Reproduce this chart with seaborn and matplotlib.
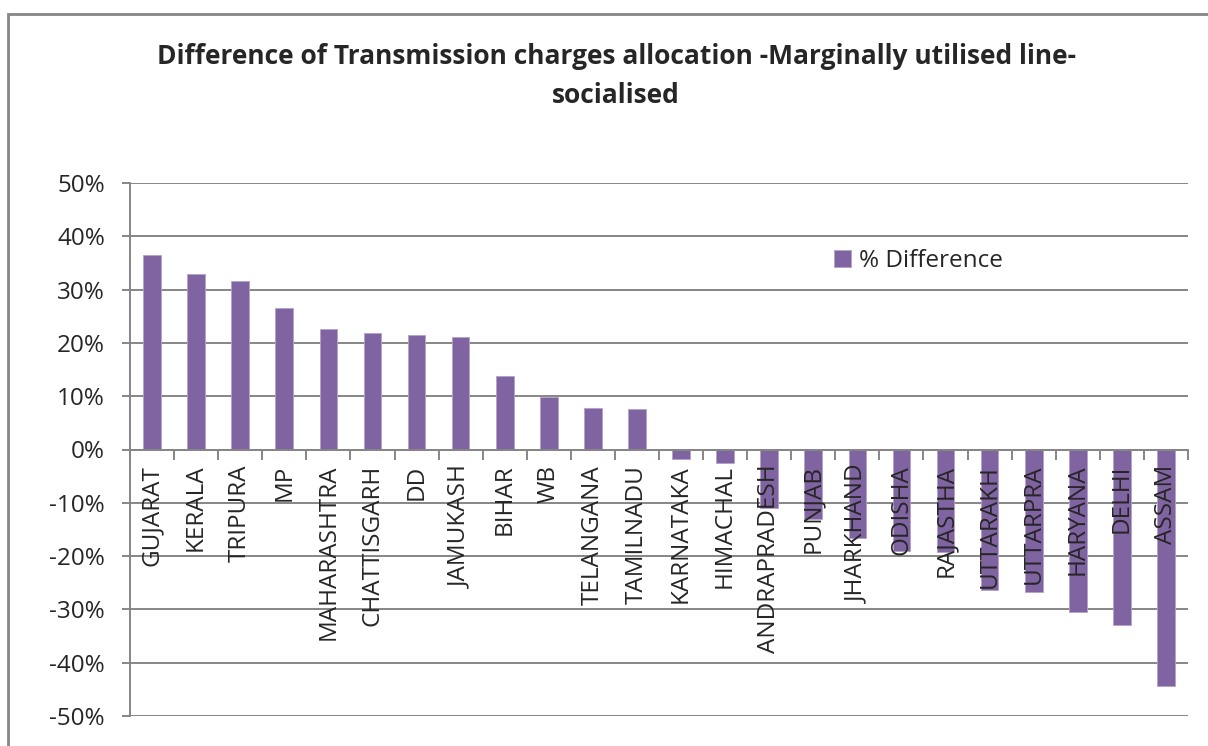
import numpy as np
import pandas as pd
import matplotlib
matplotlib.use("Agg")
import matplotlib.pyplot as plt
import seaborn as sns
from matplotlib.patches import Rectangle
from matplotlib.ticker import FixedLocator, FuncFormatter

# データ
states = [
    "GUJARAT", "KERALA", "TRIPURA", "MP", "MAHARASHTRA", "CHATTISGARH",
    "DD", "JAMUKASH", "BIHAR", "WB", "TELANGANA", "TAMILNADU",
    "KARNATAKA", "HIMACHAL", "ANDRAPRADESH", "PUNJAB", "JHARKHAND", "ODISHA",
    "RAJASTHA", "UTTARAKH", "UTTARPRA", "HARYANA", "DELHI", "ASSAM",
]
pct_diff = [
    36.4, 32.9, 31.6, 26.6, 22.6, 21.9,
    21.4, 21.2, 13.7, 9.9, 7.8, 7.6,
    -1.7, -2.6, -10.9, -13.0, -16.6, -19.0,
    -19.2, -26.3, -26.7, -30.5, -33.0, -44.4,
]
y_ticks = [-50, -40, -30, -20, -10, 0, 10, 20, 30, 40, 50]
series_name = "% Difference"
title = "Difference of Transmission charges allocation -Marginally utilised line-\nsocialised"

df = pd.DataFrame({"state": states, "value": pct_diff})

sns.set_theme(style="white")
plt.rcParams["font.family"] = ["Open Sans", "DejaVu Sans"]

grid_col = "#868686"
bar_col = "#8064A2"

fig = plt.figure(figsize=(12.08, 7.46), dpi=100)
ax = fig.add_axes([130 / 1208, 1 - 716 / 746, 1058 / 1208, 533 / 746])

sns.barplot(data=df, x="state", y="value", color=bar_col, width=0.4,
            saturation=1, edgecolor="#b3a2c7", linewidth=0.6,
            label=series_name, ax=ax, zorder=2)

ax.set_ylim(-50, 50)
ax.set_xlim(-0.5, len(states) - 0.5)
ax.yaxis.set_major_locator(FixedLocator(y_ticks))
ax.yaxis.set_major_formatter(FuncFormatter(lambda v, p: f"{v:.0f}%"))
ax.yaxis.grid(True, color=grid_col, linewidth=1.4)

# 軸線 (グリッドは棒の後ろ、カテゴリ名は棒の上)
ax.yaxis.set_zorder(0.5)
ax.xaxis.set_zorder(5)
for s in ["top", "right"]:
    ax.spines[s].set_visible(False)
ax.spines["left"].set_color(grid_col)
ax.spines["left"].set_linewidth(1.4)
ax.spines["bottom"].set_position(("data", 0))
ax.spines["bottom"].set_color(grid_col)
ax.spines["bottom"].set_linewidth(1.4)
ax.spines["bottom"].set_zorder(4)

ax.tick_params(axis="y", which="major", direction="out", length=6, width=1.4,
               color=grid_col, labelsize=17.5, pad=12, left=True)
ax.set_xticks(range(len(states)))
ax.set_xticklabels(states, rotation=90, va="top", ha="center", fontsize=17.5)
ax.tick_params(axis="x", which="major", length=0, pad=11)
ax.set_xticks(np.arange(-0.5, len(states)), minor=True)
ax.tick_params(axis="x", which="minor", direction="out", length=7, width=1.4,
               color=grid_col, bottom=True)
ax.set_xlabel("")
ax.set_ylabel("")

ax.legend(loc="center left", bbox_to_anchor=(0.645, 0.853), frameon=False,
          fontsize=17.5, handlelength=0.7, handleheight=0.7, handletextpad=0.3)

fig.text(616 / 1208, 1 - 76 / 746, title, ha="center", va="center",
         fontsize=19, fontweight="bold", linespacing=1.6)

# 外枠
fig.patches.append(Rectangle((8 / 1208, -0.1), 1.2, 1 - 14 / 746 + 0.1,
                             transform=fig.transFigure, fill=False,
                             edgecolor=grid_col, linewidth=2))

fig.savefig("out.png", dpi=100)
